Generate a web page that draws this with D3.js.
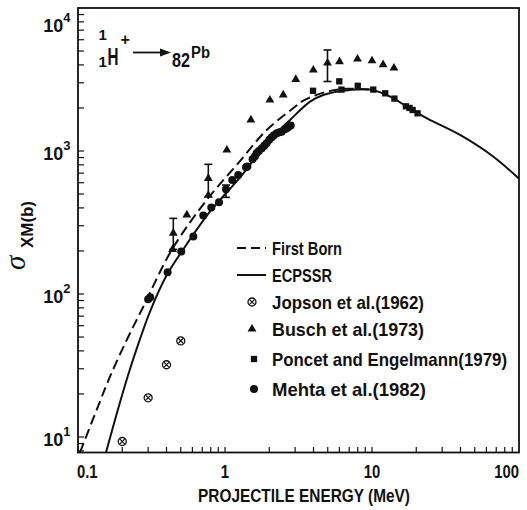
<!DOCTYPE html>
<html>
<head>
<meta charset="utf-8">
<script src="https://cdn.jsdelivr.net/npm/d3@7"></script>
<style>
body { margin: 0; background: #fff; }
text { font-family: "Liberation Sans", Arial, sans-serif; font-weight: bold; fill: #111; }
</style>
</head>
<body>
<div id="chart-area"></div>
<script>
// theory curves (energy in MeV, cross section in barn)
var bornE   = [0.1032, 0.134, 0.165, 0.2145, 0.278, 0.434, 0.751, 1.2, 1.922, 2.91, 3.41, 4.92, 6.73, 9.7];
var bornXs  = [7.8, 15.5, 26.4, 47.7, 81.5, 203, 454, 798, 1403, 1989, 2250, 2600, 2720, 2690];
var ecpssrE  = [0.155, 0.184, 0.219, 0.26, 0.309, 0.40, 0.52, 0.79, 1.265, 1.92, 2.77, 3.79, 4.66, 7.09, 9.69, 13.3, 18.1, 24, 40, 67, 100];
var ecpssrXs = [7.8, 14.7, 27, 46.2, 75.4, 134.5, 205, 376, 653, 1132, 1648, 2213, 2466, 2670, 2690, 2400, 1980, 1680, 1290, 912, 640];

// experiments
var jopsonE  = [0.2, 0.3, 0.4, 0.5];
var jopsonXs = [9.3, 18.8, 32, 47];

var buschE  = [0.44, 0.445, 0.55, 0.77, 0.77, 1.03, 1.5, 2.02, 2.49, 3.03, 3.99, 4.98, 6.01, 7.97, 10.0, 11.9, 14.1];
var buschXs = [205, 266, 357, 644, 490, 1016, 1648, 2273, 2466, 3170, 3685, 4121, 4212, 4395, 4274, 4018, 3802];
var buschErrE  = [0.445, 0.77, 4.98];
var buschErrLo = [205, 480, 3062];
var buschErrHi = [338, 807, 5085];

var ponceE  = [3.97, 5.99, 6.2, 8.0, 10.2, 12.3, 14.2, 17.0, 18.0, 18.9, 20.4];
var ponceXs = [2637, 3069, 2688, 2858, 2688, 2532, 2325, 2054, 2000, 1935, 1835];

var mehtaE  = [0.3, 0.31, 0.407, 0.504, 0.609, 0.712, 0.807, 0.91, 1.016, 1.12, 1.23, 1.39, 1.42, 1.54, 1.6, 1.64, 1.7, 1.78, 1.85, 1.92, 2.0, 2.08, 2.15, 2.25, 2.35, 2.43, 2.55, 2.63, 2.7, 2.8];
var mehtaXs = [92, 95, 142, 198, 252, 354, 403, 438, 540, 627, 680, 769, 780, 875, 920, 964, 1000, 1044, 1090, 1132, 1200, 1248, 1290, 1330, 1350, 1365, 1420, 1442, 1470, 1510];
var mehtaErrE  = [1.016];
var mehtaErrLo = [474];
var mehtaErrHi = [578];

var xTicks = [0.1, 1, 10, 100];
var xTickLabels = ["0.1", "1", "10", "100"];
var yTicks = [10, 100, 1000, 10000];
var yTickExp = ["1", "2", "3", "4"];

var legendLabels = ["First Born", "ECPSSR", "Jopson et al.(1962)", "Busch et al.(1973)", "Poncet and Engelmann(1979)", "Mehta et al.(1982)"];

var svg = d3.select("#chart-area").append("svg")
    .attr("width", 527)
    .attr("height", 510);

var x = d3.scaleLog().domain([0.1, 100]).range([78, 519]);
var y = d3.scaleLog().domain([7.79, 10000]).range([452.5, 8]);

var zip = (a, b) => a.map((v, i) => [v, b[i]]);

// the original lettering is a tall condensed face: squeeze glyphs sideways
function squeeze(sel, k) {
    sel.each(function() {
        var w = this.getComputedTextLength();
        d3.select(this).attr("textLength", w * k).attr("lengthAdjust", "spacingAndGlyphs");
    });
}

// frame
svg.append("rect")
    .attr("x", 78).attr("y", 8)
    .attr("width", 441).attr("height", 444.5)
    .attr("fill", "none").attr("stroke", "#111").attr("stroke-width", 1.8);

// ticks, pointing inward
var xMinor = [];
for (var d = 0.1; d < 100; d *= 10) {
    for (var k = 1; k <= 9; k++) xMinor.push(d * k);
}
svg.selectAll(".xt").data(xMinor).enter().append("line")
    .attr("x1", d => x(d)).attr("x2", d => x(d))
    .attr("y1", 452.5).attr("y2", 447)
    .attr("stroke", "#111").attr("stroke-width", 1.2);

var yMinor = [];
for (var d = 1; d < 10000; d *= 10) {
    for (var k = 1; k <= 9; k++) if (d * k >= 7.79) yMinor.push(d * k);
}
svg.selectAll(".yt").data(yMinor).enter().append("line")
    .attr("x1", 78).attr("x2", 84)
    .attr("y1", d => y(d)).attr("y2", d => y(d))
    .attr("stroke", "#111").attr("stroke-width", 1.2);

// x tick labels
var xl = svg.selectAll(".xl").data(xTicks).enter().append("text")
    .attr("x", (d, i) => i == 0 ? x(d) - 1 : x(d))
    .attr("y", 478)
    .attr("text-anchor", (d, i) => i == 0 ? "start" : (i == xTicks.length - 1 ? "end" : "middle"))
    .attr("font-size", 19)
    .text((d, i) => xTickLabels[i]);
squeeze(xl, 0.78);

// y tick labels, 10^n
var yl = svg.selectAll(".yl").data(yTicks).enter().append("text")
    .attr("x", 70.5)
    .attr("y", d => Math.max(y(d) + 9, 31.5))
    .attr("text-anchor", "end")
    .attr("font-size", 18);
yl.append("tspan").text("10");
yl.append("tspan").attr("dy", -10).attr("font-size", 13).text((d, i) => yTickExp[i]);

// axis titles
svg.append("text")
    .attr("x", 304).attr("y", 502)
    .attr("text-anchor", "middle")
    .attr("font-size", 18)
    .attr("textLength", 212).attr("lengthAdjust", "spacingAndGlyphs")
    .text("PROJECTILE ENERGY (MeV)");

var yt = svg.append("g").attr("transform", "translate(25,270) rotate(-90)");
yt.append("text")
    .style("font-family", "'Liberation Serif', 'DejaVu Serif', serif")
    .style("font-style", "italic")
    .style("font-weight", "normal")
    .attr("font-size", 29)
    .text("σ");
yt.append("text").attr("x", 22).attr("y", 8).attr("font-size", 17)
    .attr("textLength", 47).attr("lengthAdjust", "spacingAndGlyphs")
    .text("XM(b)");

// reaction label
var rx = svg.append("g");
rx.append("text").attr("x", 98.5).attr("y", 40).attr("font-size", 15).text("1");
rx.append("text").attr("x", 98.5).attr("y", 67).attr("font-size", 15).text("1");
rx.append("text").attr("x", 107.5).attr("y", 65).attr("font-size", 23)
    .attr("textLength", 11).attr("lengthAdjust", "spacingAndGlyphs").text("H");
rx.append("text").attr("x", 120.5).attr("y", 45).attr("font-size", 16).text("+");
rx.append("line").attr("x1", 133).attr("x2", 163).attr("y1", 52.5).attr("y2", 52.5)
    .attr("stroke", "#111").attr("stroke-width", 1.8);
rx.append("path").attr("d", "M160,48.5 L171,52.5 L160,56.5 Z").attr("fill", "#111");
rx.append("text").attr("x", 172).attr("y", 67).attr("font-size", 20)
    .attr("textLength", 18).attr("lengthAdjust", "spacingAndGlyphs").text("82");
rx.append("text").attr("x", 191).attr("y", 58).attr("font-size", 16)
    .attr("textLength", 19).attr("lengthAdjust", "spacingAndGlyphs").text("Pb");

// curves
var line = d3.line()
    .x(d => x(d[0]))
    .y(d => y(d[1]))
    .curve(d3.curveCatmullRom.alpha(0.5));

svg.append("clipPath").attr("id", "clip")
    .append("rect").attr("x", 78).attr("y", 8).attr("width", 441).attr("height", 444.5);

svg.append("path")
    .datum(zip(ecpssrE, ecpssrXs))
    .attr("clip-path", "url(#clip)")
    .attr("d", line)
    .attr("fill", "none").attr("stroke", "#111").attr("stroke-width", 2);

svg.append("path")
    .datum(zip(bornE, bornXs))
    .attr("clip-path", "url(#clip)")
    .attr("d", line)
    .attr("fill", "none").attr("stroke", "#111").attr("stroke-width", 2)
    .attr("stroke-dasharray", "10,5");

// error bars
function errorBars(es, lo, hi) {
    var g = svg.append("g").attr("stroke", "#111").attr("stroke-width", 1.6);
    es.forEach((e, i) => {
        g.append("line").attr("x1", x(e)).attr("x2", x(e)).attr("y1", y(lo[i])).attr("y2", y(hi[i]));
        g.append("line").attr("x1", x(e) - 4).attr("x2", x(e) + 4).attr("y1", y(hi[i])).attr("y2", y(hi[i]));
        g.append("line").attr("x1", x(e) - 4).attr("x2", x(e) + 4).attr("y1", y(lo[i])).attr("y2", y(lo[i]));
    });
}
errorBars(buschErrE, buschErrLo, buschErrHi);
errorBars(mehtaErrE, mehtaErrLo, mehtaErrHi);

// markers
var tri = d3.symbol().type(d3.symbolTriangle).size(34);
var sq = d3.symbol().type(d3.symbolSquare).size(40);

function otimes(g, cx, cy) {
    g.append("circle").attr("cx", cx).attr("cy", cy).attr("r", 4)
        .attr("fill", "#fff").attr("stroke", "#111").attr("stroke-width", 1.3);
    g.append("path")
        .attr("d", "M" + (cx - 2.6) + "," + (cy - 2.6) + "L" + (cx + 2.6) + "," + (cy + 2.6) +
                   "M" + (cx - 2.6) + "," + (cy + 2.6) + "L" + (cx + 2.6) + "," + (cy - 2.6))
        .attr("stroke", "#111").attr("stroke-width", 1.2);
}

svg.selectAll(".mehta").data(zip(mehtaE, mehtaXs)).enter().append("circle")
    .attr("cx", d => x(d[0])).attr("cy", d => y(d[1])).attr("r", 4).attr("fill", "#111");

svg.selectAll(".busch").data(zip(buschE, buschXs)).enter().append("path")
    .attr("d", tri)
    .attr("transform", d => "translate(" + x(d[0]) + "," + y(d[1]) + ")")
    .attr("fill", "#111");

svg.selectAll(".ponce").data(zip(ponceE, ponceXs)).enter().append("path")
    .attr("d", sq)
    .attr("transform", d => "translate(" + x(d[0]) + "," + y(d[1]) + ")")
    .attr("fill", "#111");

var jg = svg.append("g");
zip(jopsonE, jopsonXs).forEach(d => otimes(jg, x(d[0]), y(d[1])));

// legend
var legY = [248, 275, 302, 329, 359, 389];
var legW = [70, 60, 152, 152, 235, 154];
var lg = svg.append("g");
lg.append("line").attr("x1", 237).attr("x2", 266).attr("y1", legY[0]).attr("y2", legY[0])
    .attr("stroke", "#111").attr("stroke-width", 2).attr("stroke-dasharray", "9,5");
lg.append("line").attr("x1", 237).attr("x2", 266).attr("y1", legY[1]).attr("y2", legY[1])
    .attr("stroke", "#111").attr("stroke-width", 2);
otimes(lg, 252, legY[2]);
lg.append("path").attr("d", tri).attr("transform", "translate(252," + legY[3] + ")").attr("fill", "#111");
lg.append("path").attr("d", sq).attr("transform", "translate(254," + legY[4] + ")").attr("fill", "#111");
lg.append("circle").attr("cx", 254).attr("cy", legY[5]).attr("r", 4).attr("fill", "#111");

lg.selectAll("text").data(legendLabels).enter().append("text")
    .attr("x", 272)
    .attr("y", (d, i) => legY[i] + 7)
    .attr("font-size", 19)
    .attr("textLength", (d, i) => legW[i]).attr("lengthAdjust", "spacingAndGlyphs")
    .text(d => d);
</script>
</body>
</html>
